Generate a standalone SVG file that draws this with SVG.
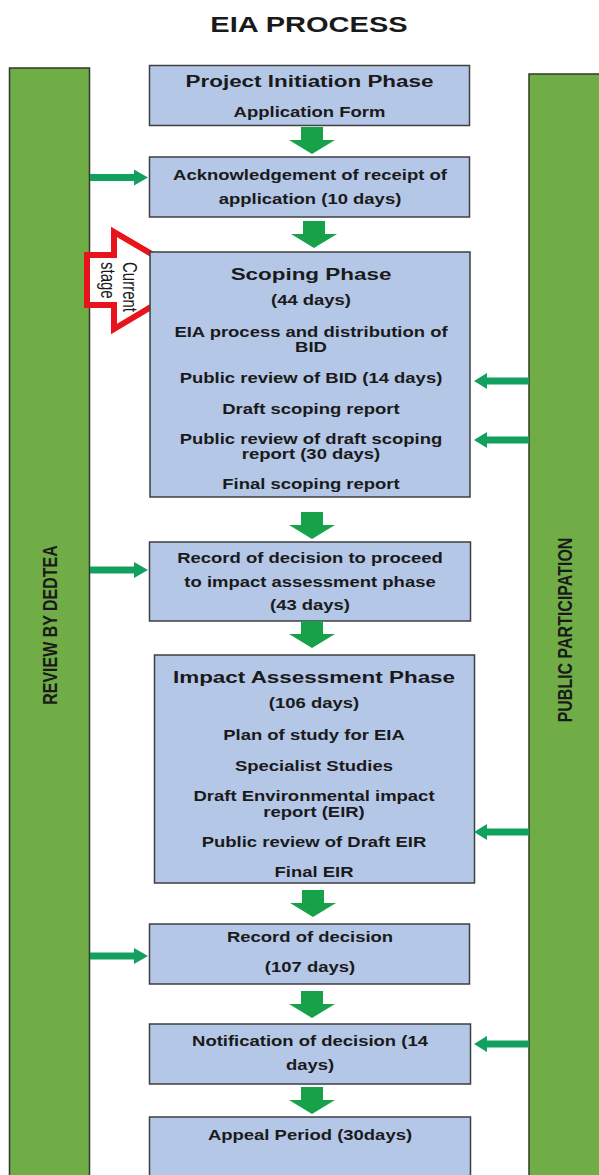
<svg xmlns="http://www.w3.org/2000/svg" xmlns:xlink="http://www.w3.org/1999/xlink" width="599" height="1175" viewBox="0 0 599 1175">
<style>
.bar{fill:#70AD47;stroke:#2f3a2a;stroke-width:1.5}
.box{fill:#B4C7E7;stroke:#3f3f3f;stroke-width:1.5}
text{font-family:"Liberation Sans",Arial,sans-serif;font-weight:bold;fill:#1a1a1a;text-anchor:middle}
.h{font-size:17px}
.b{font-size:14px}
.side{font-size:16px}
.cur{font-size:15px;font-weight:normal;text-anchor:start}
.down{fill:#17A24A}
.hz{fill:#12A05E}
</style>
<defs>
<path id="darrow" d="M-11,0 h22 v13 h12 l-23,14 l-23,-14 h12 z"/>
<path id="rarrow" d="M0,-3.5 h44 v-4.5 l14,8 l-14,8 v-4.5 h-44 z"/>
<path id="larrow" d="M0,-3.5 h-42 v-4.5 l-13,8 l13,8 v-4.5 h42 z"/>
</defs>
<rect width="599" height="1175" fill="#ffffff"/>
<g id="title"><text transform="translate(309,32) scale(1.32,1)" style="font-size:22px">EIA PROCESS</text></g>
<g id="review-bar">
<rect class="bar" x="9.5" y="68" width="80" height="1120"/>
<text class="side" transform="translate(57,625) scale(1.32,1) rotate(-90)">REVIEW BY DEDTEA</text>
</g>
<g id="public-bar">
<rect class="bar" x="529" y="74" width="80" height="1120"/>
<text class="side" transform="translate(572,630) scale(1.32,1) rotate(-90)">PUBLIC PARTICIPATION</text>
</g>
<g id="current-stage">
<path d="M87,255 H114 V232 L196,280 L114,329 V305 H87 Z" fill="#ffffff" stroke="#E8141B" stroke-width="6" stroke-linejoin="miter"/>
<text class="cur" transform="translate(123,262) scale(1.32,1) rotate(90)">Current</text>
<text class="cur" transform="translate(101,262) scale(1.32,1) rotate(90)">stage</text>
</g>
<g id="n1">
<rect class="box" x="149.5" y="65.5" width="320" height="60"/>
<g transform="translate(309.5,0) scale(1.32,1)">
<text class="h" x="0" y="87">Project Initiation Phase</text>
<text class="b" x="0" y="117">Application Form</text>
</g>
</g>
<g id="n2">
<rect class="box" x="149.5" y="157" width="320" height="60"/>
<g transform="translate(310,0) scale(1.32,1)">
<text class="b" x="0" y="180">Acknowledgement of receipt of</text>
<text class="b" x="0" y="204">application (10 days)</text>
</g>
</g>
<g id="n3">
<rect class="box" x="150" y="252" width="320" height="245"/>
<g transform="translate(311,0) scale(1.32,1)">
<text class="h" x="0" y="280">Scoping Phase</text>
<text class="b" x="0" y="305">(44 days)</text>
<text class="b" x="0" y="337">EIA process and distribution of</text>
<text class="b" x="0" y="352">BID</text>
<text class="b" x="0" y="383">Public review of BID (14 days)</text>
<text class="b" x="0" y="414">Draft scoping report</text>
<text class="b" x="0" y="444">Public review of draft scoping</text>
<text class="b" x="0" y="459">report (30 days)</text>
<text class="b" x="0" y="489">Final scoping report</text>
</g>
</g>
<g id="n4">
<rect class="box" x="149.5" y="542" width="321" height="79"/>
<g transform="translate(310,0) scale(1.32,1)">
<text class="b" x="0" y="563">Record of decision to proceed</text>
<text class="b" x="0" y="587">to impact assessment phase</text>
<text class="b" x="0" y="610">(43 days)</text>
</g>
</g>
<g id="n5">
<rect class="box" x="154.5" y="655" width="320" height="228"/>
<g transform="translate(314,0) scale(1.32,1)">
<text class="h" x="0" y="683">Impact Assessment Phase</text>
<text class="b" x="0" y="708">(106 days)</text>
<text class="b" x="0" y="740">Plan of study for EIA</text>
<text class="b" x="0" y="771">Specialist Studies</text>
<text class="b" x="0" y="801">Draft Environmental impact</text>
<text class="b" x="0" y="817">report (EIR)</text>
<text class="b" x="0" y="847">Public review of Draft EIR</text>
<text class="b" x="0" y="877">Final EIR</text>
</g>
</g>
<g id="n6">
<rect class="box" x="149.5" y="924" width="320" height="60"/>
<g transform="translate(310,0) scale(1.32,1)">
<text class="b" x="0" y="942">Record of decision</text>
<text class="b" x="0" y="972">(107 days)</text>
</g>
</g>
<g id="n7">
<rect class="box" x="149.5" y="1024" width="321" height="60"/>
<g transform="translate(310,0) scale(1.32,1)">
<text class="b" x="0" y="1046">Notification of decision (14</text>
<text class="b" x="0" y="1070">days)</text>
</g>
</g>
<g id="n8">
<rect class="box" x="149.5" y="1117" width="321" height="70"/>
<g transform="translate(310,0) scale(1.32,1)">
<text class="b" x="0" y="1140">Appeal Period (30days)</text>
</g>
</g>
<g id="connectors">
<use href="#darrow" class="down" x="312" y="127"/>
<use href="#darrow" class="down" x="314" y="221"/>
<use href="#darrow" class="down" x="312" y="512"/>
<use href="#darrow" class="down" x="312" y="621"/>
<use href="#darrow" class="down" x="313" y="890"/>
<use href="#darrow" class="down" x="312" y="991"/>
<use href="#darrow" class="down" x="312" y="1087"/>
<use href="#rarrow" class="hz" x="90" y="177.5"/>
<use href="#rarrow" class="hz" x="90" y="570"/>
<use href="#rarrow" class="hz" x="90" y="956"/>
<use href="#larrow" class="hz" x="529" y="381"/>
<use href="#larrow" class="hz" x="529" y="440"/>
<use href="#larrow" class="hz" x="529" y="832"/>
<use href="#larrow" class="hz" x="529" y="1044"/>
</g>
</svg>
